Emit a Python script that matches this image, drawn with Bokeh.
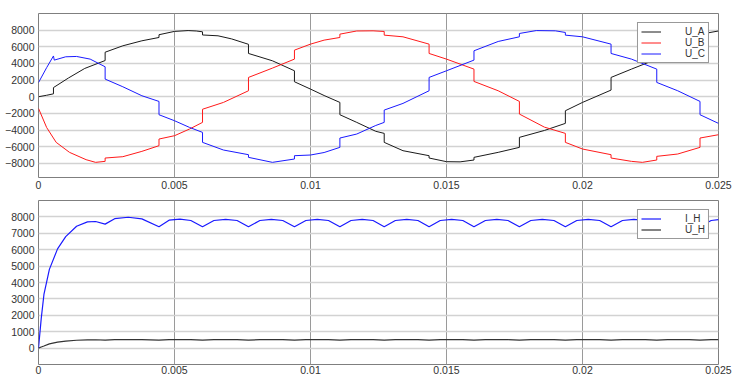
from bokeh.plotting import figure
from bokeh.layouts import column
from bokeh.models import Range1d, FixedTicker, Legend, LegendItem
from bokeh.embed import file_html
from bokeh.resources import INLINE

# ---------------- data ----------------
x_ticks = [0, 0.005, 0.01, 0.015, 0.02, 0.025]
x_tick_labels = ["0", "0.005", "0.01", "0.015", "0.02", "0.025"]
top_y_ticks = [-8000, -6000, -4000, -2000, 0, 2000, 4000, 6000, 8000]
bot_y_ticks = [0, 1000, 2000, 3000, 4000, 5000, 6000, 7000, 8000]

# U_A (black)
t_a = [0, 0.0003, 0.00055, 0.00055, 0.0011, 0.0017, 0.00245, 0.00245, 0.0031, 0.0038,
       0.00443, 0.00443, 0.0050, 0.0055, 0.0058, 0.00603, 0.00603, 0.0066, 0.0071,
       0.00772, 0.00772, 0.0086, 0.00941, 0.00941, 0.0100, 0.0105, 0.01108, 0.01108,
       0.0117, 0.0124, 0.01271, 0.01271, 0.0134, 0.01436, 0.01436, 0.0150, 0.0155,
       0.01601, 0.01601, 0.0169, 0.01768, 0.01768, 0.0186, 0.01937, 0.01937, 0.0200,
       0.02105, 0.02105, 0.0218, 0.02273, 0.02273, 0.0235, 0.02432, 0.02432, 0.025]
u_a = [0, 180, 350, 1100, 2250, 3400, 4350, 5350, 6120, 6720,
       7120, 7450, 7850, 7950, 7900, 7800, 7420, 7320, 6950,
       6300, 5200, 4320, 3120, 1800, 920, 150, -680, -2160,
       -3080, -4150, -4400, -5480, -6480, -7080, -7360, -7800, -7820,
       -7600, -7280, -6680, -6080, -4880, -4050, -3200, -1680, -680,
       800, 2320, 3320, 4520, 5520, 6300, 7100, 7500, 7900]

# U_B (red)
t_b = [0, 0.0003, 0.00065, 0.00114, 0.00175, 0.0021, 0.00245, 0.00245, 0.0031, 0.0038,
       0.00443, 0.00443, 0.0050, 0.00555, 0.00603, 0.00603, 0.0068, 0.00772, 0.00772,
       0.0086, 0.00941, 0.00941, 0.0100, 0.0105, 0.01108, 0.01108, 0.0117, 0.0123,
       0.01271, 0.01271, 0.0134, 0.01436, 0.01436, 0.0150, 0.01601, 0.01601, 0.0169,
       0.01768, 0.01768, 0.0186, 0.01937, 0.01937, 0.0200, 0.02105, 0.02105, 0.0218,
       0.0222, 0.02273, 0.02273, 0.0235, 0.02432, 0.02432, 0.025]
u_b = [-1400, -3700, -5480, -6680, -7560, -7880, -7760, -7360, -7200, -6560,
       -5880, -5080, -4680, -3880, -3080, -1500, -680, 720, 2320,
       3440, 4520, 5600, 6320, 6800, 7120, 7520, 7900, 7920,
       7840, 7400, 7200, 6320, 5200, 4520, 3320, 1840, 720,
       -560, -2080, -3650, -4400, -5480, -6280, -6960, -7360, -7760,
       -7880, -7600, -7160, -6880, -6080, -4960, -4560]

# U_C (blue)
t_c = [0, 0.0003, 0.00055, 0.00058, 0.0010, 0.0014, 0.0019, 0.00245, 0.00245, 0.0031,
       0.0038, 0.00443, 0.00443, 0.0050, 0.00555, 0.00603, 0.00603, 0.0068, 0.00772,
       0.00772, 0.0086, 0.00941, 0.00941, 0.0100, 0.0105, 0.01108, 0.01108, 0.0117,
       0.0124, 0.01271, 0.01271, 0.0134, 0.01436, 0.01436, 0.0150, 0.01601, 0.01601,
       0.0169, 0.01768, 0.01768, 0.0183, 0.0190, 0.01937, 0.01937, 0.0200, 0.02105,
       0.02105, 0.0218, 0.02273, 0.02273, 0.0235, 0.02432, 0.02432, 0.025]
u_c = [1700, 3500, 4900, 4400, 4800, 4840, 4520, 3600, 2120, 1200,
       120, -560, -2160, -2880, -3680, -4280, -5480, -6400, -6960,
       -7280, -7880, -7480, -7080, -7000, -6700, -6080, -4960, -4480,
       -3450, -3080, -1600, -800, 720, 2320, 3120, 4400, 5520,
       6640, 7200, 7600, 7950, 7920, 7720, 7400, 7200, 6320,
       5200, 4520, 3320, 1720, 720, -560, -2160, -3200]

# I_H (blue) and U_H (black)
t_h = [0, 0.0001, 0.0002, 0.0004, 0.0007, 0.0010, 0.0014, 0.0018, 0.0021, 0.00245,
       0.0028, 0.0033, 0.0038, 0.00443, 0.0048, 0.0052, 0.0056, 0.00603,
       0.00645, 0.00688, 0.0073, 0.00772, 0.00814, 0.00856, 0.00898, 0.00941,
       0.00983, 0.01025, 0.01066, 0.01108, 0.01149, 0.0119, 0.0123, 0.01271,
       0.01312, 0.01354, 0.01395, 0.01436, 0.01477, 0.01519, 0.0156, 0.01601,
       0.01643, 0.01685, 0.01726, 0.01768, 0.0181, 0.01852, 0.01895, 0.01937,
       0.01979, 0.02021, 0.02063, 0.02105, 0.02147, 0.02189, 0.02231, 0.02273,
       0.02313, 0.02353, 0.02392, 0.02432, 0.02473, 0.025]
i_h = [0, 1800, 3270, 4800, 6050, 6800, 7430, 7700, 7720, 7560,
       7890, 7980, 7880, 7400, 7800, 7860, 7780, 7400,
       7780, 7850, 7780, 7400, 7780, 7850, 7780, 7400,
       7780, 7850, 7780, 7400, 7780, 7850, 7780, 7400,
       7780, 7850, 7780, 7400, 7780, 7850, 7780, 7400,
       7780, 7850, 7780, 7400, 7780, 7850, 7780, 7400,
       7780, 7850, 7780, 7400, 7780, 7850, 7780, 7400,
       7780, 7850, 7780, 7400, 7780, 7830]
u_h = [0, 70, 130, 260, 360, 430, 480, 505, 510, 490,
       515, 525, 515, 490, 515, 520, 515, 490,
       515, 520, 515, 490, 515, 520, 515, 490,
       515, 520, 515, 490, 515, 520, 515, 490,
       515, 520, 515, 490, 515, 520, 515, 490,
       515, 520, 515, 490, 515, 520, 515, 490,
       515, 520, 515, 490, 515, 520, 515, 490,
       515, 520, 515, 490, 515, 518]

FONT = "Liberation Sans"
TXT = "#333333"


def style(p, yticks, xstandoff):
    p.outline_line_color = "#7f7f7f"
    p.outline_line_width = 1
    p.xaxis.ticker = FixedTicker(ticks=x_ticks)
    p.xaxis.major_label_overrides = {t: s for t, s in zip(x_ticks, x_tick_labels)}
    p.yaxis.ticker = FixedTicker(ticks=yticks)
    for ax in (p.xaxis[0], p.yaxis[0]):
        ax.axis_line_color = None
        ax.major_tick_line_color = None
        ax.minor_tick_line_color = None
        ax.major_tick_out = 0
        ax.major_tick_in = 0
        ax.minor_tick_out = 0
        ax.minor_tick_in = 0
        ax.major_label_text_font = FONT
        ax.major_label_text_font_size = "10.5px"
        ax.major_label_text_color = TXT
    p.xaxis.major_label_standoff = xstandoff
    p.yaxis.major_label_standoff = 4
    p.xgrid.grid_line_color = "#9a9a9a"
    p.xgrid.grid_line_width = 1
    p.ygrid.grid_line_color = "#d2d2d2"
    p.ygrid.grid_line_width = 1.3
    p.background_fill_color = "white"
    p.border_fill_color = "white"


def make_legend(items):
    lg = Legend(items=items, location="top_right")
    lg.margin = 9
    lg.padding = 3
    lg.spacing = 0
    lg.glyph_width = 20
    lg.glyph_height = 9
    lg.label_height = 9
    lg.label_standoff = 24
    lg.label_text_font = FONT
    lg.label_text_font_size = "10px"
    lg.label_text_color = TXT
    lg.border_line_color = "#333333"
    lg.border_line_width = 1
    lg.background_fill_color = "white"
    lg.background_fill_alpha = 1.0
    return lg


# ---------------- top figure ----------------
p1 = figure(width=734, height=192, output_backend="svg", toolbar_location=None,
            x_range=Range1d(0, 0.025), y_range=Range1d(-9700, 10000),
            min_border_left=38, min_border_right=16, min_border_top=13, min_border_bottom=15)
style(p1, top_y_ticks, 3)
ra = p1.line(t_a, u_a, line_color="#1a1a1a", line_width=1)
rb = p1.line(t_b, u_b, line_color="#ff1a1a", line_width=1)
rc = p1.line(t_c, u_c, line_color="#1a1aff", line_width=1)
p1.add_layout(make_legend([LegendItem(label="U_A", renderers=[ra]),
                           LegendItem(label="U_B", renderers=[rb]),
                           LegendItem(label="U_C", renderers=[rc])]))

# ---------------- bottom figure ----------------
p2 = figure(width=734, height=184, output_backend="svg", toolbar_location=None,
            x_range=Range1d(0, 0.025), y_range=Range1d(-1000, 9000),
            min_border_left=38, min_border_right=16, min_border_top=8, min_border_bottom=12)
style(p2, bot_y_ticks, 1)
ri = p2.line(t_h, i_h, line_color="#1a1aff", line_width=1.2)
ru = p2.line(t_h, u_h, line_color="#333333", line_width=1.2)
p2.add_layout(make_legend([LegendItem(label="I_H", renderers=[ri]),
                           LegendItem(label="U_H", renderers=[ru])]))

layout = column(p1, p2, spacing=0)
open("out.html", "w").write(file_html(layout, INLINE))
